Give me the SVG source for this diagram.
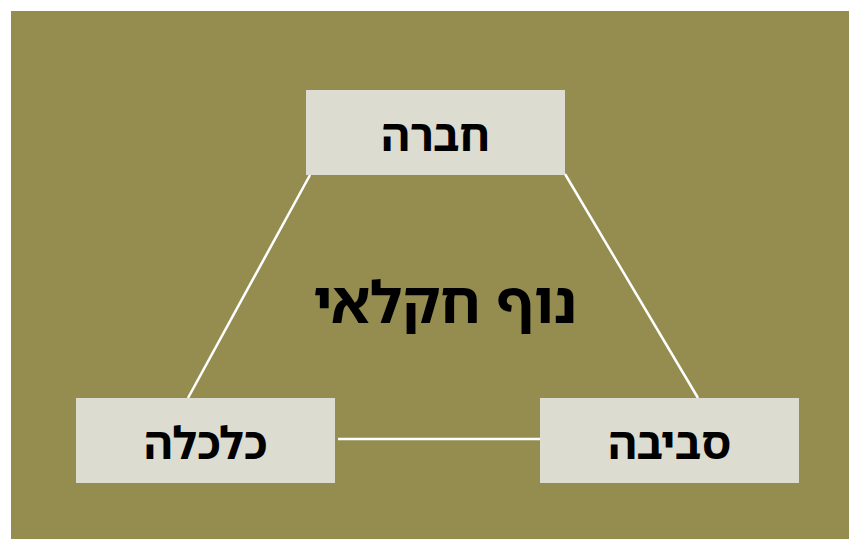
<svg xmlns="http://www.w3.org/2000/svg" width="849" height="539" viewBox="0 0 849 539">
<style>
.box{fill:#DCDCD1;}
.lbl{font-family:"Noto Sans Hebrew","DejaVu Sans",sans-serif;font-weight:bold;font-size:44px;fill:#000;text-anchor:middle;}
.edge{stroke:#fff;stroke-width:2.5;fill:none;}
</style>
<rect x="0" y="0" width="849" height="539" fill="#fff"/>
<rect x="11" y="11" width="838" height="528" fill="#948D4F"/>
<g id="connectors">
<line class="edge" x1="310" y1="175" x2="188" y2="398"/>
<line class="edge" x1="565" y1="174" x2="698" y2="398"/>
<line class="edge" x1="338" y1="439" x2="540" y2="439"/>
</g>
<g id="center">
<text class="lbl" x="445" y="323" style="font-size:58px" direction="rtl">נוף חקלאי</text>
</g>
<g id="n-hevra">
<rect class="box" x="306" y="90" width="259" height="85"/>
<text class="lbl" x="435.3" y="151">חברה</text>
</g>
<g id="n-kalkala">
<rect class="box" x="76" y="398" width="259" height="85"/>
<text class="lbl" x="205.5" y="458.5">כלכלה</text>
</g>
<g id="n-sviva">
<rect class="box" x="540" y="398" width="259" height="85"/>
<text class="lbl" x="669.5" y="458.5">סביבה</text>
</g>
</svg>
